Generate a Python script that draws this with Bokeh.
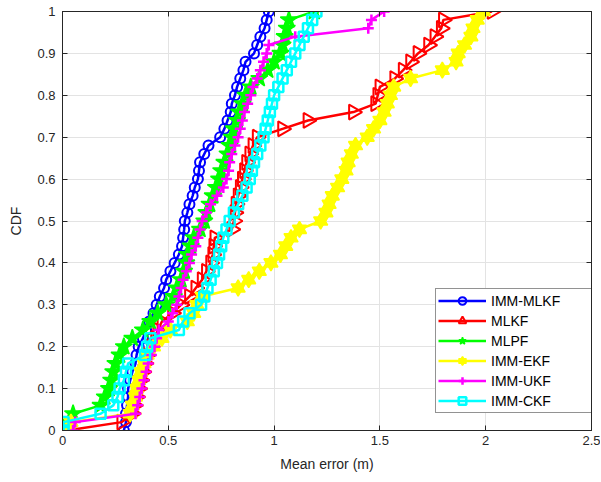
import math
from bokeh.plotting import figure
from bokeh.models import Range1d, LinearAxis, Legend, LegendItem, FixedTicker
from bokeh.embed import file_html
from bokeh.resources import INLINE

# ---------------- data ----------------
cdf_levels = [0.00, 0.02, 0.04, 0.06, 0.08, 0.10, 0.12, 0.14, 0.16, 0.18,
              0.20, 0.22, 0.24, 0.26, 0.28, 0.30, 0.32, 0.34, 0.36, 0.38,
              0.40, 0.42, 0.44, 0.46, 0.48, 0.50, 0.52, 0.54, 0.56, 0.58,
              0.60, 0.62, 0.64, 0.66, 0.68, 0.70, 0.72, 0.74, 0.76, 0.78,
              0.80, 0.82, 0.84, 0.86, 0.88, 0.90, 0.92, 0.94, 0.96, 0.98, 1.00]

imm_mlkf = [0.29, 0.30, 0.30, 0.305, 0.31, 0.31, 0.32, 0.33, 0.345, 0.35,
            0.36, 0.38, 0.395, 0.41, 0.43, 0.445, 0.46, 0.48, 0.49, 0.51,
            0.53, 0.55, 0.565, 0.57, 0.575, 0.578, 0.59, 0.60, 0.615, 0.625,
            0.64, 0.645, 0.65, 0.67, 0.69, 0.745, 0.765, 0.78, 0.795, 0.80,
            0.815, 0.825, 0.84, 0.855, 0.865, 0.905, 0.92, 0.935, 0.955, 0.965, 0.975]

mlkf = [0.02, 0.28, 0.33, 0.34, 0.35, 0.36, 0.37, 0.38, 0.39, 0.40,
        0.42, 0.44, 0.45, 0.47, 0.52, 0.56, 0.60, 0.63, 0.66, 0.68,
        0.70, 0.71, 0.715, 0.72, 0.80, 0.81, 0.815, 0.82, 0.83, 0.84,
        0.85, 0.86, 0.87, 0.885, 0.90, 0.92, 1.04, 1.16, 1.375, 1.48,
        1.49, 1.50, 1.57, 1.61, 1.645, 1.68, 1.73, 1.76, 1.79, 1.80, 2.03]

mlpf = [0.02, 0.03, 0.05, 0.18, 0.20, 0.22, 0.23, 0.24, 0.25, 0.27,
        0.29, 0.33, 0.38, 0.415, 0.45, 0.49, 0.525, 0.54, 0.56, 0.575,
        0.585, 0.59, 0.605, 0.62, 0.65, 0.67, 0.68, 0.695, 0.71, 0.725,
        0.74, 0.75, 0.765, 0.78, 0.79, 0.80, 0.81, 0.825, 0.835, 0.85,
        0.865, 0.89, 0.93, 0.97, 1.00, 1.03, 1.04, 1.05, 1.06, 1.07, 1.19]

imm_ekf = [0.03, 0.04, 0.32, 0.33, 0.345, 0.35, 0.36, 0.37, 0.385, 0.40,
           0.43, 0.47, 0.51, 0.59, 0.62, 0.635, 0.66, 0.83, 0.88, 0.93,
           0.985, 1.03, 1.055, 1.08, 1.12, 1.22, 1.245, 1.26, 1.275, 1.30,
           1.32, 1.34, 1.35, 1.365, 1.385, 1.44, 1.47, 1.50, 1.52, 1.535,
           1.55, 1.565, 1.645, 1.795, 1.86, 1.87, 1.90, 1.93, 1.94, 1.96, 1.99]

imm_ukf = [0.05, 0.06, 0.345, 0.355, 0.365, 0.375, 0.385, 0.395, 0.405, 0.42,
           0.435, 0.445, 0.455, 0.50, 0.52, 0.54, 0.55, 0.56, 0.57, 0.585,
           0.60, 0.61, 0.63, 0.64, 0.65, 0.66, 0.68, 0.70, 0.73, 0.76,
           0.775, 0.785, 0.79, 0.80, 0.815, 0.83, 0.84, 0.85, 0.86, 0.875,
           0.89, 0.90, 0.92, 0.935, 0.95, 0.965, 0.975, 1.10, 1.445, 1.46, 1.52]

imm_ckf = [0.005, 0.005, 0.18, 0.24, 0.26, 0.27, 0.29, 0.30, 0.31, 0.39,
           0.40, 0.415, 0.55, 0.57, 0.60, 0.655, 0.67, 0.685, 0.70, 0.715,
           0.73, 0.74, 0.75, 0.76, 0.775, 0.79, 0.81, 0.83, 0.85, 0.87,
           0.885, 0.895, 0.905, 0.92, 0.935, 0.95, 0.96, 0.97, 0.98, 0.99,
           1.00, 1.02, 1.04, 1.06, 1.08, 1.10, 1.12, 1.14, 1.16, 1.18, 1.20]

series_names = ["IMM-MLKF", "MLKF", "MLPF", "IMM-EKF", "IMM-UKF", "IMM-CKF"]

x_ticks = [0, 0.5, 1, 1.5, 2, 2.5]
x_tick_labels = ["0", "0.5", "1", "1.5", "2", "2.5"]
y_ticks = [0, 0.1, 0.2, 0.3, 0.4, 0.5, 0.6, 0.7, 0.8, 0.9, 1]
y_tick_labels = ["0", "0.1", "0.2", "0.3", "0.4", "0.5", "0.6", "0.7", "0.8", "0.9", "1"]

# ---------------- figure ----------------
FONT = "Liberation Sans"
AX = "#262626"

p = figure(width=600, height=480,
           x_range=Range1d(0, 2.5), y_range=Range1d(0, 1),
           output_backend="svg", toolbar_location=None,
           min_border_left=62, min_border_right=9,
           min_border_top=11, min_border_bottom=50)
p.outline_line_color = AX
p.outline_line_width = 1
p.background_fill_color = "white"
p.border_fill_color = "white"


def style_axis(ax, ticks, labels):
    ax.ticker = FixedTicker(ticks=ticks)
    ax.major_label_overrides = {t: l for t, l in zip(ticks, labels)}
    ax.major_tick_in = 5
    ax.major_tick_out = 0
    ax.minor_tick_line_color = None
    ax.axis_line_color = AX
    ax.major_tick_line_color = AX
    ax.major_label_text_color = AX
    ax.major_label_text_font = FONT
    ax.major_label_text_font_size = "13px"
    ax.axis_label_text_font = FONT
    ax.axis_label_text_font_size = "14px"
    ax.axis_label_text_font_style = "normal"
    ax.axis_label_text_color = AX


style_axis(p.xaxis[0], x_ticks, x_tick_labels)
style_axis(p.yaxis[0], y_ticks, y_tick_labels)
p.xaxis[0].axis_label = "Mean error (m)"
p.yaxis[0].axis_label = "CDF"
p.xaxis[0].major_label_standoff = 5
p.xaxis[0].axis_label_standoff = 8
p.yaxis[0].major_label_standoff = 7
p.yaxis[0].axis_label_standoff = 10

for loc, ticks in (("right", y_ticks), ("above", x_ticks)):
    ax = LinearAxis(ticker=FixedTicker(ticks=ticks),
                    major_label_text_font_size="0px",
                    major_label_text_alpha=0,
                    major_label_standoff=0,
                    major_tick_in=5, major_tick_out=0,
                    minor_tick_line_color=None,
                    axis_line_color=AX, major_tick_line_color=AX)
    p.add_layout(ax, loc)

p.xgrid.ticker = FixedTicker(ticks=x_ticks)
p.ygrid.ticker = FixedTicker(ticks=y_ticks)
p.xgrid.grid_line_color = "#e3e3e3"
p.ygrid.grid_line_color = "#e3e3e3"

LW = 2.5
items = []

# IMM-MLKF: blue, hollow circles
l1 = p.line(imm_mlkf, cdf_levels, line_color="#0000ff", line_width=LW)
s1 = p.scatter(imm_mlkf, cdf_levels, marker="circle", size=10,
               line_color="#0000ff", line_width=2, fill_alpha=0)
items.append(LegendItem(label=series_names[0], renderers=[l1, s1]))

# MLKF: red, right-pointing triangles
l2 = p.line(mlkf, cdf_levels, line_color="#ff0000", line_width=LW)
s2 = p.scatter(mlkf, cdf_levels, marker="triangle", size=15, angle=-math.pi / 2,
               line_color="#ff0000", line_width=2, fill_alpha=0)
items.append(LegendItem(label=series_names[1], renderers=[l2, s2]))

# MLPF: green, pentagrams
l3 = p.line(mlpf, cdf_levels, line_color="#00ff00", line_width=LW)
s3 = p.scatter(mlpf, cdf_levels, marker="star", size=18,
               line_color="#00ff00", line_width=1.5, fill_color="#00ff00")
items.append(LegendItem(label=series_names[2], renderers=[l3, s3]))

# IMM-EKF: yellow, hexagrams (two triangles)
l4 = p.line(imm_ekf, cdf_levels, line_color="#ffff00", line_width=LW)
s4a = p.scatter(imm_ekf, cdf_levels, marker="triangle", size=14,
                line_color="#ffff00", line_width=1.5, fill_color="#ffff00")
s4b = p.scatter(imm_ekf, cdf_levels, marker="inverted_triangle", size=14,
                line_color="#ffff00", line_width=1.5, fill_color="#ffff00")
items.append(LegendItem(label=series_names[3], renderers=[l4, s4a, s4b]))

# IMM-UKF: magenta, plus
l5 = p.line(imm_ukf, cdf_levels, line_color="#ff00ff", line_width=LW)
s5 = p.scatter(imm_ukf, cdf_levels, marker="cross", size=11,
               line_color="#ff00ff", line_width=2.5)
items.append(LegendItem(label=series_names[4], renderers=[l5, s5]))

# IMM-CKF: cyan, hollow squares
l6 = p.line(imm_ckf, cdf_levels, line_color="#00ffff", line_width=LW)
s6 = p.scatter(imm_ckf, cdf_levels, marker="square", size=10,
               line_color="#00ffff", line_width=2.5, fill_alpha=0)
items.append(LegendItem(label=series_names[5], renderers=[l6, s6]))

legend = Legend(items=items, location=(373, 17),
                border_line_color=AX, border_line_width=1,
                background_fill_color="white", background_fill_alpha=1,
                label_text_font=FONT, label_text_font_size="14px",
                label_text_color="#000000",
                glyph_width=48, glyph_height=19, label_height=19,
                label_width=105, label_standoff=5,
                spacing=1, padding=2, margin=0)
p.add_layout(legend, "center")

open("out.html", "w").write(file_html(p, INLINE))
